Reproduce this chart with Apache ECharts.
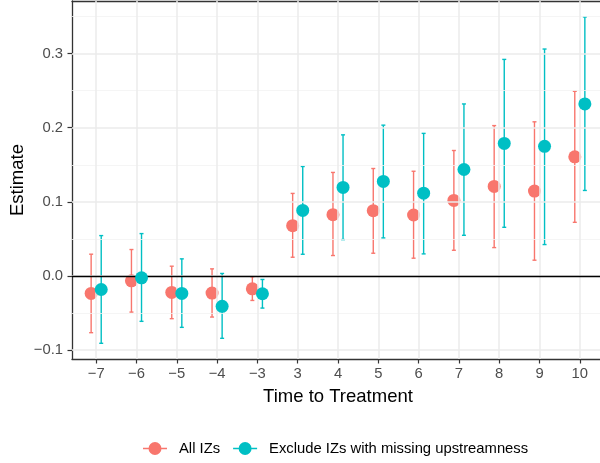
<!DOCTYPE html>
<html>
<head>
<meta charset="utf-8">
<script src="https://cdn.jsdelivr.net/npm/echarts@6/dist/echarts.min.js"></script>
<style>html,body{margin:0;padding:0;background:#fff;overflow:hidden;}#chart{width:600px;height:463px;}</style>
</head>
<body>
<div id="chart"></div>
<script>
// ---- data ----
const categories = ['−7','−6','−5','−4','−3','3','4','5','6','7','8','9','10'];
const seriesNames = ['All IZs', 'Exclude IZs with missing upstreamness'];
const allEst  = [-0.0235, -0.0065, -0.0222, -0.0231, -0.0173, 0.0679, 0.0827, 0.0881, 0.0823, 0.1020, 0.1208, 0.1146, 0.1608];
const allLow  = [-0.0765, -0.0487, -0.0576, -0.0554, -0.0330, 0.0253, 0.0276, 0.0307, 0.0240, 0.0347, 0.0383, 0.0213, 0.0724];
const allHigh = [ 0.0294,  0.0357,  0.0132,  0.0096, -0.0010, 0.1114, 0.1397, 0.1450, 0.1413, 0.1693, 0.2029, 0.2080, 0.2492];
const exEst   = [-0.0182, -0.0025, -0.0235, -0.0410, -0.0240, 0.0885, 0.1195, 0.1276, 0.1117, 0.1437, 0.1789, 0.1749, 0.2321];
const exLow   = [-0.0908, -0.0612, -0.0693, -0.0841, -0.0433, 0.0293, 0.0491, 0.0514, 0.0298, 0.0549, 0.0657, 0.0424, 0.1154];
const exHigh  = [ 0.0545,  0.0572,  0.0231,  0.0034, -0.0047, 0.1477, 0.1904, 0.2035, 0.1924, 0.2321, 0.2922, 0.3062, 0.3495];
const yTicks  = [-0.1, 0.0, 0.1, 0.2, 0.3];
const yMinor  = [-0.05, 0.05, 0.15, 0.25, 0.35];

// ---- styling ----
const RED = '#F8766D', TEAL = '#00BFC4';
const DODGE = 0.125;
const FONT = '"Liberation Sans", Arial, Helvetica, sans-serif';
const BORDER = { color: '#333333', width: 1.3 };
const xIdx = categories.map((_, i) => i);
const X_MIN = -0.6, X_MAX = 12.6;

function fmtY(v) {
  const r = Math.round(v * 10) / 10;
  if (Math.abs(r) < 1e-9) return '0.0';
  return (r < 0 ? '−' : '') + Math.abs(r).toFixed(1);
}

function errSeries(name, low, high, offset, color) {
  return {
    type: 'custom',
    name: name,
    z: 3,
    silent: true,
    data: low.map((l, i) => [i, l, high[i]]),
    encode: { x: 0, y: [1, 2] },
    renderItem: function (params, api) {
      const x = api.value(0) + offset;
      const lo = api.coord([x, api.value(1)]);
      const hi = api.coord([x, api.value(2)]);
      const cw = 2;
      const st = { stroke: color, lineWidth: 1.4 };
      return {
        type: 'group',
        children: [
          { type: 'line', shape: { x1: lo[0], y1: lo[1], x2: hi[0], y2: hi[1] }, style: st },
          { type: 'line', shape: { x1: hi[0] - cw, y1: hi[1], x2: hi[0] + cw, y2: hi[1] }, style: st },
          { type: 'line', shape: { x1: lo[0] - cw, y1: lo[1], x2: lo[0] + cw, y2: lo[1] }, style: st }
        ]
      };
    }
  };
}

function pointSeries(name, est, offset, color, z) {
  return {
    type: 'scatter',
    name: name,
    z: z,
    symbol: 'circle',
    symbolSize: 13,
    itemStyle: { color: color, opacity: 1 },
    data: est.map((v, i) => [i + offset, v])
  };
}

const legendIcon = 'path://M0,5.8L24,5.8L24,7.2L0,7.2Z M5.5,6.5A6.5,6.5 0 1 1 18.5,6.5A6.5,6.5 0 1 1 5.5,6.5Z';

const chart = echarts.init(document.getElementById('chart'), null, { renderer: 'canvas' });
chart.setOption({
  animation: false,
  backgroundColor: '#ffffff',
  textStyle: { fontFamily: FONT },
  grid: {
    left: 72, top: 1, width: 532, height: 358,
    outerBoundsMode: 'none', containLabel: false,
    show: false
  },
  legend: {
    left: 143, top: 441, padding: 0,
    itemWidth: 24, itemHeight: 13, itemGap: 13,
    textStyle: { fontFamily: FONT, fontSize: 14.8, color: '#000', padding: [0, 0, 0, 7] },
    data: [
      { name: seriesNames[0], icon: legendIcon, itemStyle: { color: RED } },
      { name: seriesNames[1], icon: legendIcon, itemStyle: { color: TEAL } }
    ]
  },
  xAxis: [
    {
      type: 'value',
      position: 'bottom',
      min: X_MIN, max: X_MAX,
      name: 'Time to Treatment',
      nameLocation: 'middle',
      nameGap: 28,
      nameTextStyle: { fontFamily: FONT, fontSize: 18.5, color: '#000' },
      axisLine: { show: true, onZero: false, lineStyle: BORDER },
      axisTick: { show: true, customValues: xIdx, length: 4.5, lineStyle: { color: '#333333', width: 1.2 } },
      axisLabel: {
        customValues: xIdx,
        formatter: v => categories[Math.round(v)],
        fontFamily: FONT, fontSize: 14.8, color: '#4D4D4D', margin: 7
      },
      splitLine: { show: false }
    },
    {
      type: 'value',
      position: 'top',
      min: X_MIN, max: X_MAX,
      axisLine: { show: true, onZero: false, lineStyle: BORDER },
      axisTick: { show: false },
      axisLabel: { show: false },
      splitLine: { show: false }
    }
  ],
  yAxis: {
    type: 'value',
    min: -0.112, max: 0.371,
    name: 'Estimate',
    nameLocation: 'middle',
    nameGap: 45,
    nameMoveOverlap: false,
    nameTextStyle: { fontFamily: FONT, fontSize: 18.5, color: '#000' },
    axisLine: { show: true, onZero: false, lineStyle: BORDER },
    axisTick: { show: true, customValues: yTicks, length: 4.5, lineStyle: { color: '#333333', width: 1.2 } },
    axisLabel: {
      customValues: yTicks,
      formatter: fmtY,
      fontFamily: FONT, fontSize: 14.8, color: '#4D4D4D', margin: 9
    },
    splitLine: { show: false }
  },
  series: [
    {
      type: 'scatter', name: 'grid', z: 0, silent: true, data: [],
      markLine: {
        silent: true, symbol: ['none', 'none'], animation: false,
        label: { show: false },
        data: [].concat(
          yMinor.map(v => ({ yAxis: v, lineStyle: { color: '#F2F2F2', width: 0.8, type: 'solid' } })),
          yTicks.map(v => ({ yAxis: v, lineStyle: { color: '#EBEBEB', width: 1.5, type: 'solid' } })),
          xIdx.map(v => ({ xAxis: v, lineStyle: { color: '#EBEBEB', width: 1.5, type: 'solid' } }))
        )
      }
    },
    {
      type: 'scatter', name: 'zero', z: 1, silent: true, data: [],
      markLine: {
        silent: true, symbol: ['none', 'none'], animation: false,
        label: { show: false },
        data: [{ yAxis: 0, lineStyle: { color: '#000000', width: 1.4, type: 'solid' } }]
      }
    },
    errSeries(seriesNames[0], allLow, allHigh, -DODGE, RED),
    pointSeries(seriesNames[0], allEst, -DODGE, RED, 4),
    errSeries(seriesNames[1], exLow, exHigh, DODGE, TEAL),
    pointSeries(seriesNames[1], exEst, DODGE, TEAL, 6)
  ]
});
</script>
</body>
</html>
